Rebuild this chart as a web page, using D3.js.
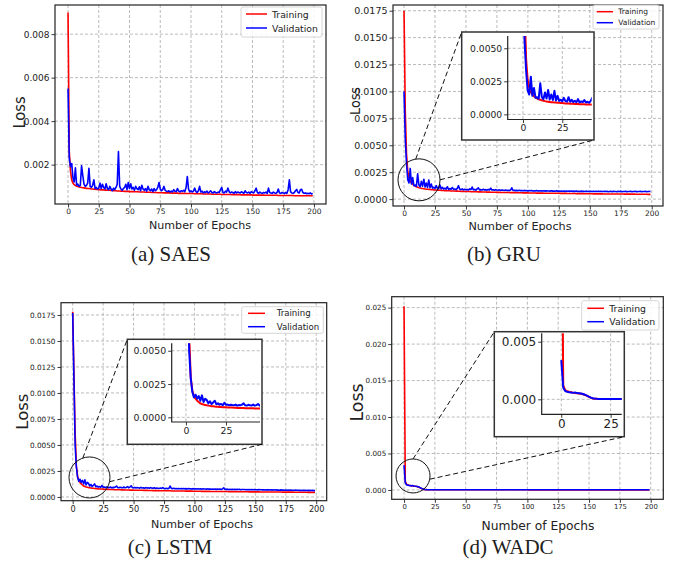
<!DOCTYPE html>
<html>
<head>
<meta charset="utf-8">
<script src="https://cdn.jsdelivr.net/npm/d3@7"></script>
<style>
  body { margin: 0; background: #fff; }
  svg { display: block; }
  text { font-family: "DejaVu Sans", sans-serif; fill: #222; }
  .cap { font-family: "Liberation Serif", "Times New Roman", serif; }
</style>
</head>
<body>
<svg id="fig" width="681" height="563"></svg>
<script>
// loss values are stored in units of 1e-5
const UNIT = 1e-5;
const epochs = d3.range(200);
const seriesNames = ['Training', 'Validation'];
const seriesColors = ['#ff0000', '#0000ff'];

const xTicks = [0, 25, 50, 75, 100, 125, 150, 175, 200];
const insetXTicks = [0, 25];
const saesYTicks = [0.002, 0.004, 0.006, 0.008];
const rnnYTicks = [0, 0.0025, 0.005, 0.0075, 0.01, 0.0125, 0.015, 0.0175];
const wadcYTicks = [0, 0.005, 0.01, 0.015, 0.02, 0.025];
const rnnInsetYTicks = [0, 0.0025, 0.005];
const wadcInsetYTicks = [0, 0.005];

const saesTrain = [900,260,170,130,115,108,104,101,99,97,96,
  95,94,93,92,91,90,90,89,88,88,
  87,87,86,86,85,85,84,84,84,83,
  83,82,82,82,81,81,80,80,80,79,
  79,79,78,78,78,77,77,77,77,76,
  76,76,76,75,75,75,75,74,74,74,
  74,74,73,73,73,73,73,72,72,72,
  72,72,71,71,71,71,71,70,70,70,
  70,70,70,69,69,69,69,69,69,68,
  68,68,68,68,68,67,67,67,67,67,
  67,67,66,66,66,66,66,66,66,65,
  65,65,65,65,65,65,64,64,64,64,
  64,64,64,64,63,63,63,63,63,63,
  63,63,62,62,62,62,62,62,62,62,
  61,61,61,61,61,61,61,61,61,60,
  60,60,60,60,60,60,60,60,60,59,
  59,59,59,59,59,59,59,59,59,59,
  58,58,58,58,58,58,58,58,58,58,
  58,58,58,57,57,57,57,57,57,57,
  57,57,57,57,57,57,57,57,57];
const saesVal = [550,230,190,205,140,120,185,105,110,100,105,
  195,150,110,100,105,115,183,100,95,105,
  130,90,95,88,92,115,90,110,95,88,
  112,90,85,100,88,80,92,85,95,110,
  260,100,88,82,90,95,110,85,118,90,
  112,88,95,82,100,90,85,98,80,105,
  88,82,90,78,100,85,80,88,76,90,
  80,85,95,118,88,80,85,100,82,78,
  76,80,74,78,75,85,78,76,90,78,
  75,80,77,82,76,95,145,88,75,80,
  74,78,92,76,72,80,100,74,78,70,
  75,72,78,70,74,80,72,70,76,72,
  70,74,72,85,95,72,70,78,74,92,
  76,70,74,72,68,76,70,74,72,70,
  75,72,68,80,72,70,74,68,76,72,
  70,80,92,72,68,74,70,68,72,70,
  74,68,92,72,70,68,74,70,68,72,
  88,70,68,72,70,67,72,68,85,130,
  75,70,68,72,80,86,72,70,85,87,
  72,68,70,66,68,66,70,65,68];

const gruTrain = [1750,820,420,260,200,170,150,138,128,120,114,
  110,106,103,100,98,96,94,92,91,90,
  89,88,87,86,85,84,83,83,82,81,
  80,80,79,78,78,77,77,76,76,75,
  75,74,74,73,73,72,72,72,71,71,
  70,70,70,69,69,69,68,68,68,67,
  67,67,66,66,66,66,65,65,65,64,
  64,64,64,63,63,63,63,62,62,62,
  62,61,61,61,61,60,60,60,60,60,
  59,59,59,59,59,58,58,58,58,58,
  57,57,57,57,57,57,56,56,56,56,
  56,56,55,55,55,55,55,55,54,54,
  54,54,54,54,54,53,53,53,53,53,
  53,52,52,52,52,52,52,52,51,51,
  51,51,51,51,51,50,50,50,50,50,
  50,50,49,49,49,49,49,49,49,49,
  48,48,48,48,48,48,48,48,47,47,
  47,47,47,47,47,47,47,46,46,46,
  46,46,46,46,46,46,45,45,45,45,
  45,45,45,45,45,45,44,44,44];
const gruVal = [1000,560,330,180,150,285,140,200,125,130,118,
  235,130,115,165,120,185,112,150,108,178,
  105,140,102,110,98,125,100,96,130,95,
  110,93,102,92,115,90,98,92,108,90,
  95,88,100,125,92,88,95,86,92,88,
  90,85,95,88,112,86,90,84,95,105,
  86,88,84,92,85,88,83,90,85,102,
  84,86,82,88,84,82,86,80,84,82,
  80,84,80,82,79,84,105,80,82,79,
  81,78,82,79,80,77,81,78,80,76,
  79,77,80,76,78,75,79,76,77,75,
  78,75,77,74,78,75,76,74,77,74,
  76,73,77,74,75,73,76,73,75,72,
  75,73,74,72,76,72,74,71,75,72,
  73,71,74,72,73,70,74,71,73,70,
  72,71,73,70,72,70,74,70,72,70,
  71,73,70,72,69,71,73,69,72,70,
  71,69,72,70,73,69,71,70,72,69,
  71,70,73,69,71,70,72,69,71,70,
  72,69,71,70,72,69,70,71,72];

const lstmTrain = [1780,1200,620,300,200,160,140,125,115,105,100,
  96,93,90,88,86,84,83,81,80,79,
  78,77,76,76,75,74,74,73,73,72,
  72,71,71,70,70,70,69,69,69,68,
  68,68,67,67,67,67,66,66,66,65,
  65,65,65,64,64,64,64,63,63,63,
  63,62,62,62,62,61,61,61,61,61,
  60,60,60,60,60,59,59,59,59,59,
  58,58,58,58,58,58,57,57,57,57,
  57,57,56,56,56,56,56,56,55,55,
  55,55,55,55,55,54,54,54,54,54,
  54,54,53,53,53,53,53,53,53,52,
  52,52,52,52,52,52,52,51,51,51,
  51,51,51,51,51,50,50,50,50,50,
  50,50,50,50,49,49,49,49,49,49,
  49,49,49,48,48,48,48,48,48,48,
  48,48,47,47,47,47,47,47,47,47,
  47,46,46,46,46,46,46,46,46,46,
  46,45,45,45,45,45,45,45,45,45,
  45,45,44,44,44,44,44,44,44];
const lstmVal = [1770,1150,500,290,190,150,170,140,160,125,165,
  115,140,130,105,120,100,112,125,98,105,
  95,100,92,110,94,96,90,95,92,90,
  96,88,92,90,95,105,90,88,94,90,
  88,96,88,92,100,88,95,108,90,88,
  92,86,90,88,85,92,86,88,84,90,
  85,88,84,90,85,83,88,82,86,84,
  82,86,82,90,82,80,84,80,82,105,
  82,80,83,79,82,78,81,79,80,78,
  82,78,80,77,81,78,79,77,80,76,
  79,77,78,76,79,75,78,76,77,75,
  78,75,76,74,77,74,76,73,76,74,
  75,73,76,88,74,73,75,72,74,72,
  74,71,73,72,74,71,73,70,72,71,
  72,70,72,70,71,69,72,70,71,69,
  70,68,71,69,70,68,69,67,70,68,
  69,67,68,66,69,67,68,66,67,65,
  68,66,67,65,66,64,67,65,66,64,
  65,63,66,64,65,63,64,62,65,63,
  64,62,63,61,64,62,63,61,62];

const wadcTrain = [2520,120,80,70,65,62,58,55,52,50,48,
  44,38,30,22,14,8,5,4,3,3,
  3,3,2,2,2,2,2,2,2,2,
  2,2,2,2,2,2,2,2,2,2,
  2,2,2,2,2,2,2,2,2,2,
  2,2,2,2,2,2,2,2,2,2,
  2,2,2,2,2,2,2,2,2,2,
  2,2,2,2,2,2,2,2,2,2,
  2,2,2,2,2,2,2,2,2,2,
  2,2,2,2,2,2,2,2,2,2,
  1,1,1,1,1,1,1,1,1,1,
  1,1,1,1,1,1,1,1,1,1,
  1,1,1,1,1,1,1,1,1,1,
  1,1,1,1,1,1,1,1,1,1,
  1,1,1,1,1,1,1,1,1,1,
  1,1,1,1,1,1,1,1,1,1,
  1,1,1,1,1,1,1,1,1,1,
  1,1,1,1,1,1,1,1,1,1,
  1,1,1,1,1,1,1,1,1,1,
  1,1,1,1,1,1,1,1,1];
const wadcVal = [340,100,72,66,62,60,56,60,54,52,50,
  46,40,32,24,15,9,6,4,3,3,
  3,3,3,2,2,2,2,2,2,2,
  2,2,2,2,2,2,2,2,2,2,
  2,2,2,2,2,2,2,2,2,2,
  2,2,2,2,2,2,2,2,2,2,
  2,2,2,2,2,2,2,2,2,2,
  2,2,2,2,2,2,2,2,2,2,
  2,2,2,2,2,2,2,2,2,2,
  2,2,2,2,2,2,2,2,2,2,
  2,2,2,2,2,2,2,2,2,2,
  2,2,2,2,2,2,2,2,2,2,
  2,2,2,2,2,2,2,2,2,2,
  2,2,2,2,2,2,2,2,2,2,
  2,2,2,2,2,2,2,2,2,2,
  2,2,2,2,2,2,2,2,2,2,
  2,2,2,2,2,2,2,2,2,2,
  2,2,2,2,2,2,2,2,2,2,
  2,2,2,2,2,2,2,2,2,2,
  2,2,2,2,2,2,2,2,2];

const panels = [
  { caption: '(a) SAES', train: saesTrain, val: saesVal,
    plot: { x0: 55, x1: 326, y0: 5, y1: 204 }, xDom: [-10.6, 209.8], yDom: [0.00019, 0.00934],
    yTicks: saesYTicks, yFmt: '.3f', yFont: 9, xFont: 7.5,
    ylab: { x: 19, y: 112.5, size: 16, len: 32 }, xlab: { x: 200, y: 225, size: 11, len: 102 },
    cap: { x: 171, y: 254 },
    legend: { x0: 241, x1: 322, y0: 7, y1: 37, rows: [14, 28], hx: [246, 267], tx: 272, size: 9.3 },
    inset: null },
  { caption: '(b) GRU', train: gruTrain, val: gruVal,
    plot: { x0: 393, x1: 663, y0: 5, y1: 206 }, xDom: [-8.9, 209.1], yDom: [-0.00064, 0.01803],
    yTicks: rnnYTicks, yFmt: '.4f', yFont: 9.5, xFont: 7.5,
    ylab: { x: 355, y: 101, size: 14, len: 28 }, xlab: { x: 520, y: 226, size: 11, len: 103 },
    cap: { x: 504, y: 254 },
    legend: { x0: 593, x1: 659, y0: 5, y1: 29, rows: [11.7, 22.7], hx: [596.7, 613], tx: 618.3, size: 7.5 },
    inset: { box: { x0: 461.7, x1: 594, y0: 32, y1: 140 }, plot: { x0: 507.7, x1: 591.7, y0: 36, y1: 119.5 },
      xDom: [-9.7, 43.7], yDom: [-0.00039, 0.00593], yTicks: rnnInsetYTicks, yFmt: '.4f', font: 9.2,
      circle: { ep: 12.1, loss: 0.00179, r: 21 }, angles: [-99, 0] } },
  { caption: '(c) LSTM', train: lstmTrain, val: lstmVal,
    plot: { x0: 61, x1: 326.7, y0: 302.7, y1: 500.7 }, xDom: [-9.6, 208.6], yDom: [-0.00036, 0.01868],
    yTicks: rnnYTicks, yFmt: '.4f', yFont: 7.3, xFont: 8.2,
    ylab: { x: 22.5, y: 411.7, size: 16, len: 36 }, xlab: { x: 202, y: 524, size: 11, len: 102 },
    cap: { x: 170, y: 547 },
    legend: { x0: 241.7, x1: 323.3, y0: 306.7, y1: 333.3, rows: [313.3, 326.7], hx: [248, 265], tx: 276.7, size: 8.6 },
    inset: { box: { x0: 127.3, x1: 262, y0: 339.3, y1: 444.3 }, plot: { x0: 171.7, x1: 260, y0: 343.3, y1: 422 },
      xDom: [-8.9, 46.25], yDom: [-0.00035, 0.00556], yTicks: rnnInsetYTicks, yFmt: '.4f', font: 9.4,
      circle: { ep: 13.8, loss: 0.001875, r: 20.5 }, angles: [-109, 12] } },
  { caption: '(d) WADC', train: wadcTrain, val: wadcVal,
    plot: { x0: 391.7, x1: 663.3, y0: 296.7, y1: 499.3 }, xDom: [-10.0, 210.2], yDom: [-0.00128, 0.0265],
    yTicks: wadcYTicks, yFmt: '.3f', yFont: 7.2, xFont: 6.8,
    ylab: { x: 356.7, y: 402.5, size: 18, len: 38 }, xlab: { x: 538, y: 526, size: 12, len: 113 },
    cap: { x: 508, y: 547 },
    legend: { x0: 581.7, x1: 659, y0: 300.7, y1: 330, rows: [308.3, 321.7], hx: [587.3, 604], tx: 609.3, size: 9.3 },
    inset: { box: { x0: 494.3, x1: 624.3, y0: 331.7, y1: 436.7 }, plot: { x0: 541.7, x1: 621.7, y0: 333.3, y1: 414.3 },
      xDom: [-9.9, 30.6], yDom: [-0.0013, 0.00573], yTicks: wadcInsetYTicks, yFmt: '.3f', font: 12,
      circle: { ep: 7.3, loss: 0.00192, r: 17 }, angles: [-90, 11] } }
];

const svg = d3.select('#fig');
svg.append('rect').attr('width', 681).attr('height', 563).attr('fill', '#fff');
let clipId = 0;

// grid + axes + clipped loss curves for one axes box
function drawFrame(g, box, xDom, yDom, xT, yT, yFmt, xFs, yFs, lw, full) {
  const x = d3.scaleLinear().domain(xDom).range([box.x0, box.x1]);
  const y = d3.scaleLinear().domain(yDom).range([box.y1, box.y0]);

  const grid = g.append('g').attr('stroke', '#aaaaaa').attr('stroke-width', 0.8)
    .attr('stroke-dasharray', '3,2');
  grid.selectAll('.gx').data(xT).join('line')
    .attr('x1', d => x(d)).attr('x2', d => x(d)).attr('y1', box.y0).attr('y2', box.y1);
  grid.selectAll('.gy').data(yT).join('line')
    .attr('y1', d => y(d)).attr('y2', d => y(d)).attr('x1', box.x0).attr('x2', box.x1);

  const id = 'clip' + (clipId++);
  g.append('clipPath').attr('id', id).append('rect')
    .attr('x', box.x0).attr('y', box.y0).attr('width', box.x1 - box.x0).attr('height', box.y1 - box.y0);

  const line = d3.line().x((d, i) => x(epochs[i])).y(d => y(d * UNIT));
  const curves = g.append('g').attr('clip-path', `url(#${id})`);
  [g.datum().train, g.datum().val].forEach((s, k) => {
    curves.append('path').datum(s).attr('d', line).attr('fill', 'none')
      .attr('stroke', seriesColors[k]).attr('stroke-width', lw).attr('stroke-linejoin', 'round');
  });

  const xa = g.append('g').attr('transform', `translate(0,${box.y1})`)
    .call(d3.axisBottom(x).tickValues(xT).tickFormat(d3.format('d')).tickSize(3.5).tickPadding(1.5));
  const ya = g.append('g').attr('transform', `translate(${box.x0},0)`)
    .call(d3.axisLeft(y).tickValues(yT).tickFormat(d3.format(yFmt)).tickSize(3.5).tickPadding(2));
  [xa, ya].forEach(a => {
    a.select('.domain').remove();
    a.selectAll('line').attr('stroke', '#222').attr('stroke-width', 0.9);
    a.selectAll('text').attr('font-family', null).attr('fill', '#222');
  });
  xa.selectAll('text').attr('font-size', xFs);
  ya.selectAll('text').attr('font-size', yFs);

  const sp = g.append('g').attr('fill', 'none').attr('stroke', '#222').attr('stroke-width', 1.2);
  if (full) {
    sp.append('rect').attr('x', box.x0).attr('y', box.y0)
      .attr('width', box.x1 - box.x0).attr('height', box.y1 - box.y0);
  } else {
    sp.append('path').attr('d', `M${box.x0},${box.y0}V${box.y1}H${box.x1}`);
  }
  return { x, y };
}

panels.forEach(p => {
  const g = svg.append('g').datum(p);
  const { x, y } = drawFrame(g, p.plot, p.xDom, p.yDom, xTicks, p.yTicks, p.yFmt, p.xFont, p.yFont, 1.6, true);

  // axis titles and caption
  g.append('text').attr('transform', `translate(${p.ylab.x},${p.ylab.y}) rotate(-90)`)
    .attr('text-anchor', 'middle').attr('dominant-baseline', 'central')
    .attr('font-size', p.ylab.size).attr('textLength', p.ylab.len).attr('lengthAdjust', 'spacingAndGlyphs')
    .text('Loss');
  g.append('text').attr('x', p.xlab.x).attr('y', p.xlab.y)
    .attr('text-anchor', 'middle').attr('dominant-baseline', 'central')
    .attr('font-size', p.xlab.size).attr('textLength', p.xlab.len).attr('lengthAdjust', 'spacingAndGlyphs')
    .text('Number of Epochs');
  g.append('text').attr('class', 'cap').attr('x', p.cap.x).attr('y', p.cap.y)
    .attr('text-anchor', 'middle').attr('dominant-baseline', 'central')
    .attr('font-size', 21).text(p.caption);

  // legend
  const L = p.legend;
  const lg = g.append('g');
  lg.append('rect').attr('x', L.x0).attr('y', L.y0).attr('width', L.x1 - L.x0).attr('height', L.y1 - L.y0)
    .attr('rx', 2).attr('fill', '#fff').attr('fill-opacity', 0.85).attr('stroke', '#cccccc').attr('stroke-width', 0.8);
  seriesNames.forEach((name, k) => {
    lg.append('line').attr('x1', L.hx[0]).attr('x2', L.hx[1]).attr('y1', L.rows[k]).attr('y2', L.rows[k])
      .attr('stroke', seriesColors[k]).attr('stroke-width', 1.5);
    lg.append('text').attr('x', L.tx).attr('y', L.rows[k]).attr('dominant-baseline', 'central')
      .attr('font-size', L.size).text(name);
  });

  // zoomed inset with circle and dashed connectors
  const I = p.inset;
  if (!I) return;
  g.append('rect').attr('x', I.box.x0).attr('y', I.box.y0)
    .attr('width', I.box.x1 - I.box.x0).attr('height', I.box.y1 - I.box.y0)
    .attr('fill', '#fff').attr('stroke', '#333').attr('stroke-width', 1.5);
  drawFrame(g.append('g'), I.plot, I.xDom, I.yDom, insetXTicks, I.yTicks, I.yFmt, I.font, I.font, 2, false);

  const cx = x(I.circle.ep), cy = y(I.circle.loss), r = I.circle.r;
  g.append('circle').attr('cx', cx).attr('cy', cy).attr('r', r)
    .attr('fill', 'none').attr('stroke', '#111').attr('stroke-width', 1);
  const ends = [[I.box.x0, I.box.y0], [I.box.x1, I.box.y1]];
  I.angles.forEach((a, k) => {
    const t = a * Math.PI / 180;
    g.append('line').attr('x1', cx + r * Math.cos(t)).attr('y1', cy + r * Math.sin(t))
      .attr('x2', ends[k][0]).attr('y2', ends[k][1])
      .attr('stroke', '#111').attr('stroke-width', 1).attr('stroke-dasharray', '5,3');
  });
});
</script>
</body>
</html>
